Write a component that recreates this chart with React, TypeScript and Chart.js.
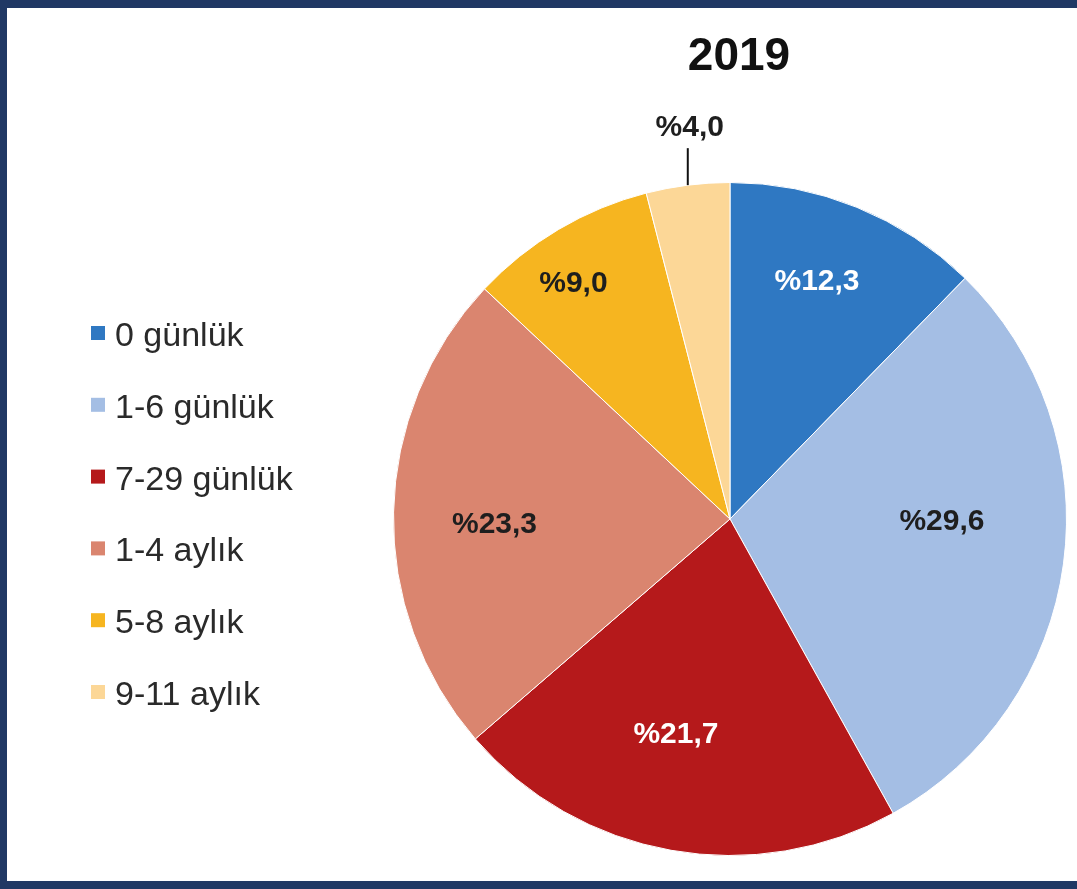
import React, { useEffect, useRef } from "react";
import { Chart, registerables } from "chart.js";

Chart.register(...registerables);

const TITLE = "2019";
const categories = ["0 günlük", "1-6 günlük", "7-29 günlük", "1-4 aylık", "5-8 aylık", "9-11 aylık"];
const shares = [12.3, 29.6, 21.7, 23.3, 9.0, 4.0];
const valueLabels = ["%12,3", "%29,6", "%21,7", "%23,3", "%9,0", "%4,0"];

const sliceColors = ["#2F78C2", "#A4BEE4", "#B5191B", "#DA856F", "#F6B520", "#FCD797"];
const labelColors = ["#ffffff", "#1e1e1e", "#ffffff", "#1e1e1e", "#1e1e1e", "#1e1e1e"];
// label placement (styling): fraction of radius, angular shift in degrees; null = outside with leader line
const labelRadius: (number | null)[] = [0.75, 0.63, 0.66, 0.7, 0.84, null];
const labelAngleShift = [-2, -7, 4, -2.5, -3, 0];

const FONT = "'Liberation Sans', Arial, Helvetica, sans-serif";

const overlayPlugin = {
  id: "overlay",
  afterDraw(chart: any) {
    const ctx: CanvasRenderingContext2D = chart.ctx;
    const meta = chart.getDatasetMeta(0);
    const ds = chart.data.datasets[0];
    ctx.save();

    // title
    ctx.font = `bold 46px ${FONT}`;
    ctx.fillStyle = "#111111";
    ctx.textAlign = "center";
    ctx.textBaseline = "alphabetic";
    ctx.fillText(TITLE, 739, 70);

    // legend
    const labels: string[] = chart.data.labels;
    ctx.font = `34px ${FONT}`;
    ctx.textAlign = "left";
    labels.forEach((lab, i) => {
      const base = 346 + i * 71.8;
      ctx.fillStyle = ds.backgroundColor[i];
      ctx.fillRect(91, base - 20, 14, 14);
      ctx.fillStyle = "#2a2a2a";
      ctx.fillText(lab, 115, base);
    });

    // data labels
    ctx.font = `bold 30px ${FONT}`;
    ctx.textAlign = "center";
    ctx.textBaseline = "middle";
    meta.data.forEach((arc: any, i: number) => {
      const p = arc.getProps(["x", "y", "startAngle", "endAngle", "outerRadius"], true);
      const mid = (p.startAngle + p.endAngle) / 2 + (labelAngleShift[i] * Math.PI) / 180;
      const frac = labelRadius[i];
      ctx.fillStyle = labelColors[i];
      if (frac === null) {
        const midA = (p.startAngle + p.endAngle) / 2;
        const ex = p.x + Math.cos(midA) * p.outerRadius;
        const ey = p.y + Math.sin(midA) * p.outerRadius;
        ctx.strokeStyle = "#111111";
        ctx.lineWidth = 2;
        ctx.beginPath();
        ctx.moveTo(ex, ey);
        ctx.lineTo(ex, ey - 37);
        ctx.stroke();
        ctx.fillText(valueLabels[i], ex + 2, ey - 57);
      } else {
        const r = p.outerRadius * frac;
        ctx.fillText(valueLabels[i], p.x + Math.cos(mid) * r, p.y + Math.sin(mid) * r);
      }
    });
    ctx.restore();
  },
};

export default function App() {
  const canvasRef = useRef<HTMLCanvasElement | null>(null);

  useEffect(() => {
    if (!canvasRef.current) return;
    const chart = new Chart(canvasRef.current, {
      type: "pie",
      data: {
        labels: categories,
        datasets: [
          {
            data: shares,
            backgroundColor: sliceColors,
            borderColor: "#ffffff",
            borderWidth: 1,
          },
        ],
      },
      options: {
        animation: false,
        responsive: true,
        maintainAspectRatio: false,
        events: [],
        layout: { padding: { left: 393, right: 10, top: 182, bottom: 33 } },
        plugins: {
          legend: { display: false },
          title: { display: false },
          tooltip: { enabled: false },
        },
      },
      plugins: [overlayPlugin],
    });
    return () => chart.destroy();
  }, []);

  return (
    <>
      <div style={{ position: "absolute", left: 0, top: 0, width: 1077, height: 889, background: "#ffffff" }}>
        <canvas ref={canvasRef} />
      </div>
      <div
        style={{
          position: "absolute",
          left: 0,
          top: 0,
          width: 1077,
          height: 889,
          boxSizing: "border-box",
          borderTop: "8px solid #203864",
          borderLeft: "7px solid #203864",
          borderBottom: "8px solid #203864",
          pointerEvents: "none",
        }}
      />
    </>
  );
}
